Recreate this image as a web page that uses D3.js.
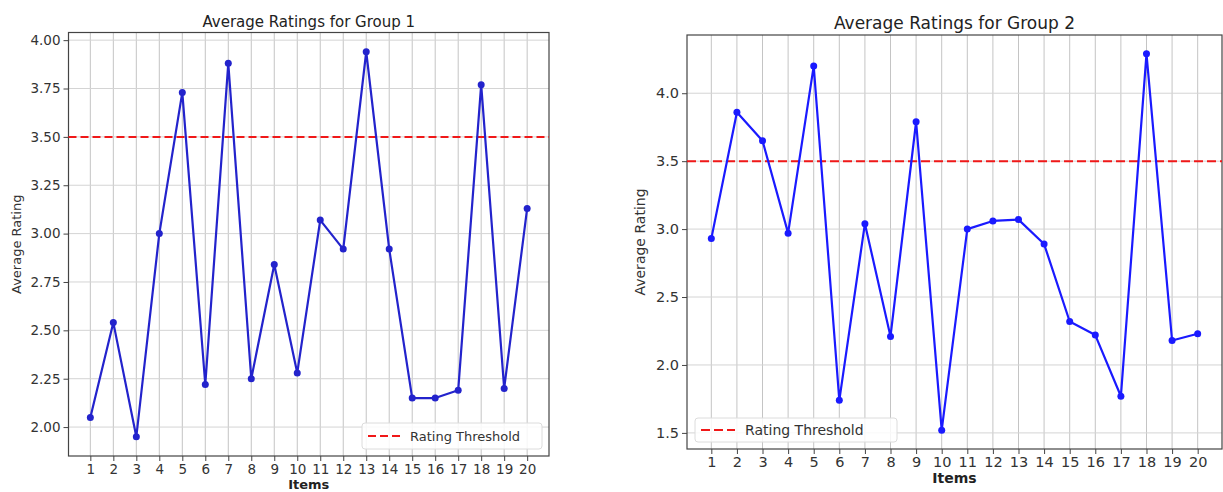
<!DOCTYPE html>
<html>
<head>
<meta charset="utf-8">
<script src="https://cdn.jsdelivr.net/npm/d3@7"></script>
<style>
  html, body { margin: 0; padding: 0; background: #fff; }
  svg { display: block; font-family: "DejaVu Sans", sans-serif; }
</style>
</head>
<body>
<svg id="chart" width="1223" height="492"></svg>
<script>
// ---- Data ----
const items = d3.range(1, 21);
const group1Ratings = [2.05, 2.54, 1.95, 3.00, 3.73, 2.22, 3.88, 2.25, 2.84, 2.28,
                       3.07, 2.92, 3.94, 2.92, 2.15, 2.15, 2.19, 3.77, 2.20, 3.13];
const group2Ratings = [2.93, 3.86, 3.65, 2.97, 4.20, 1.74, 3.04, 2.21, 3.79, 1.52,
                       3.00, 3.06, 3.07, 2.89, 2.32, 2.22, 1.77, 4.29, 2.18, 2.23];
const group1Ticks = [2.00, 2.25, 2.50, 2.75, 3.00, 3.25, 3.50, 3.75, 4.00];
const group2Ticks = [1.5, 2.0, 2.5, 3.0, 3.5, 4.0];
const threshold = 3.5;
const titles = ["Average Ratings for Group 1", "Average Ratings for Group 2"];
const xLabel = "Items";
const yLabel = "Average Rating";
const legendLabel = "Rating Threshold";

const svg = d3.select("#chart");

function drawPanel(opt) {
  const {values, ticks, fmt, box, title, lineColor, fs, tickFs, titleFs, yLabelX, legend, dash} = opt;
  const g = svg.append("g");
  const x = d3.scaleLinear().domain([1 - 0.95, 20 + 0.95]).range([box.x0, box.x1]);
  const lo = d3.min(values), hi = d3.max(values), m = (hi - lo) * 0.05;
  const y = d3.scaleLinear().domain([lo - m, hi + m]).range([box.y1, box.y0]);

  // grid
  g.append("g").selectAll("line").data(items).join("line")
    .attr("x1", d => x(d)).attr("x2", d => x(d))
    .attr("y1", box.y0).attr("y2", box.y1)
    .attr("stroke", "#c4c4c4").attr("stroke-width", 1);
  g.append("g").selectAll("line").data(ticks).join("line")
    .attr("x1", box.x0).attr("x2", box.x1)
    .attr("y1", d => y(d)).attr("y2", d => y(d))
    .attr("stroke", "#d4d4d4").attr("stroke-width", 1);

  // axes
  const xAxis = d3.axisBottom(x).tickValues(items).tickFormat(d3.format("d")).tickSize(5).tickPadding(3);
  const yAxis = d3.axisLeft(y).tickValues(ticks).tickFormat(d3.format(fmt)).tickSize(5).tickPadding(3);
  const gx = g.append("g").attr("transform", `translate(0,${box.y1})`).call(xAxis);
  const gy = g.append("g").attr("transform", `translate(${box.x0},0)`).call(yAxis);
  [gx, gy].forEach(a => {
    a.select(".domain").remove();
    a.selectAll(".tick line").attr("stroke", "#444");
    a.selectAll(".tick text").attr("fill", "#333").style("font-size", tickFs + "px")
      .style("font-family", "DejaVu Sans, sans-serif");
  });

  // frame
  g.append("rect").attr("x", box.x0).attr("y", box.y0)
    .attr("width", box.x1 - box.x0).attr("height", box.y1 - box.y0)
    .attr("fill", "none").attr("stroke", "#444").attr("stroke-width", 1.2);

  // threshold line
  g.append("line").attr("x1", box.x0).attr("x2", box.x1)
    .attr("y1", y(threshold)).attr("y2", y(threshold))
    .attr("stroke", "#f01818").attr("stroke-width", 2).attr("stroke-dasharray", dash);

  // data line
  const pts = items.map((d, i) => [d, values[i]]);
  g.append("path").datum(pts)
    .attr("d", d3.line().x(d => x(d[0])).y(d => y(d[1])))
    .attr("fill", "none").attr("stroke", lineColor).attr("stroke-width", 2.2)
    .attr("stroke-linejoin", "round");
  g.append("g").selectAll("circle").data(pts).join("circle")
    .attr("cx", d => x(d[0])).attr("cy", d => y(d[1])).attr("r", 3.5)
    .attr("fill", lineColor);

  // title
  g.append("text").attr("x", (box.x0 + box.x1) / 2).attr("y", box.y0 - 6)
    .attr("text-anchor", "middle").attr("fill", "#222")
    .style("font-size", titleFs + "px").text(title);

  // x label
  g.append("text").attr("x", (box.x0 + box.x1) / 2).attr("y", opt.xLabelY)
    .attr("text-anchor", "middle").attr("fill", "#222").attr("font-weight", "bold")
    .style("font-size", fs + "px").text(xLabel);

  // y label
  g.append("text")
    .attr("transform", `translate(${yLabelX},${(box.y0 + box.y1) / 2}) rotate(-90)`)
    .attr("text-anchor", "middle").attr("dominant-baseline", "middle").attr("fill", "#333")
    .style("font-size", fs + "px").text(yLabel);

  // legend
  const lg = g.append("g");
  lg.append("rect").attr("x", legend.x0).attr("y", legend.y0)
    .attr("width", legend.x1 - legend.x0).attr("height", legend.y1 - legend.y0)
    .attr("rx", 3).attr("fill", "#fff").attr("fill-opacity", 0.85)
    .attr("stroke", "#dcdcdc");
  const ly = (legend.y0 + legend.y1) / 2;
  lg.append("line").attr("x1", legend.x0 + 6).attr("x2", legend.x0 + 6 + legend.sw)
    .attr("y1", ly).attr("y2", ly)
    .attr("stroke", "#f01818").attr("stroke-width", 2).attr("stroke-dasharray", dash);
  lg.append("text").attr("x", legend.x0 + legend.sw + 16).attr("y", ly)
    .attr("dominant-baseline", "central").attr("fill", "#333")
    .style("font-size", fs + "px").text(legendLabel);
}

drawPanel({
  values: group1Ratings, ticks: group1Ticks, fmt: ".2f",
  box: {x0: 68.5, x1: 549, y0: 32.5, y1: 456},
  title: titles[0], lineColor: "#2323cc", fs: 13, tickFs: 13.5, titleFs: 15,
  yLabelX: 17, xLabelY: 489, dash: "8,4",
  legend: {x0: 362, x1: 542, y0: 423, y1: 449, sw: 32}
});

drawPanel({
  values: group2Ratings, ticks: group2Ticks, fmt: ".1f",
  box: {x0: 687, x1: 1222, y0: 35, y1: 449},
  title: titles[1], lineColor: "#1a1aff", fs: 14, tickFs: 14.5, titleFs: 17,
  yLabelX: 641, xLabelY: 483, dash: "9,4",
  legend: {x0: 695, x1: 897, y0: 418, y1: 442, sw: 34}
});
</script>
</body>
</html>
